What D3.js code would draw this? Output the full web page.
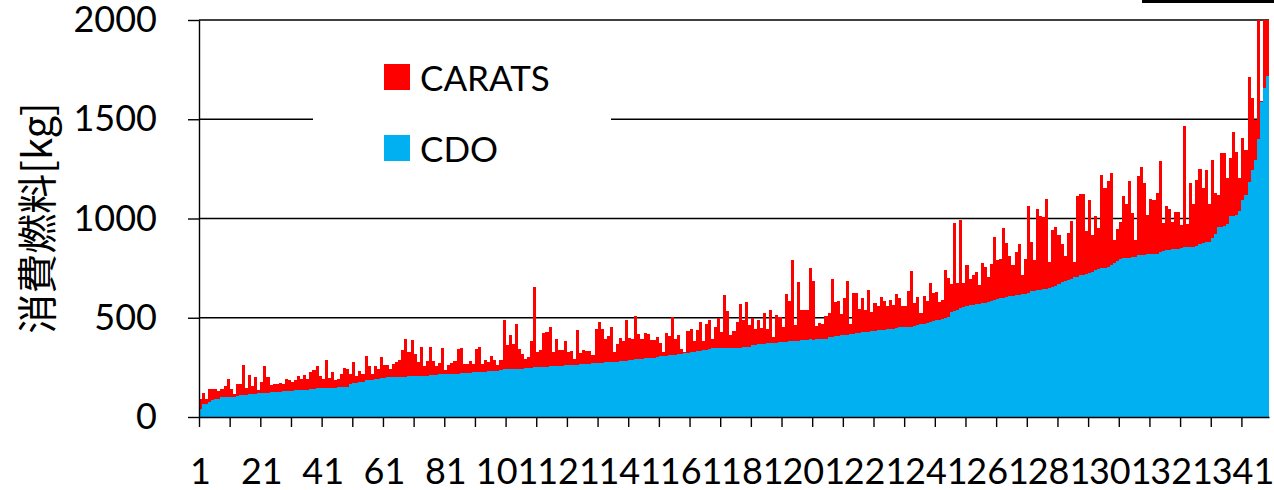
<!DOCTYPE html>
<html>
<head>
<meta charset="utf-8">
<script src="https://cdn.jsdelivr.net/npm/d3@7"></script>
<style>
  html, body { margin: 0; padding: 0; background: #fff; }
  svg { display: block; }
  .axis text { font-family: Lato, "Open Sans", sans-serif; font-size: 36px; fill: #000; }
  .axis path, .axis line { stroke: #000; stroke-width: 1.4; }
</style>
</head>
<body>
<svg id="chart"></svg>
<script>
// fuel per flight [kg], flights sorted by CDO fuel
var cdo = [
  42, 67, 67, 76, 84, 93, 90, 99, 99, 99, 99, 99, 105, 109, 109, 112, 114, 114, 116, 119,
  119, 120, 122, 124, 125, 126, 128, 130, 130, 131, 133, 135, 135, 136, 137, 138, 140, 143, 144, 145,
  146, 146, 146, 147, 148, 150, 151, 151, 153, 165,
  171, 171, 177, 177, 185, 185, 185, 190, 190, 197, 197, 202, 202, 202, 202, 202, 202, 202, 205, 205,
  205, 205, 205, 205, 205, 210, 210, 212, 215, 215, 215, 215, 215, 215, 218, 220, 220, 220, 222, 225,
  225, 225, 226, 228, 230, 230, 232, 234, 236, 240,
  240, 240, 240, 240, 240, 240, 245, 245, 245, 250, 250, 250, 250, 250, 256, 256, 256, 256, 256, 261,
  261, 261, 261, 261, 266, 266, 266, 268, 271, 271, 271, 273, 276, 276, 276, 276, 278, 281, 281, 283,
  286, 288, 291, 291, 294, 296, 296, 296, 298, 301,
  306, 306, 306, 311, 311, 311, 316, 316, 321, 321, 326, 326, 331, 331, 336, 336, 341, 346, 346, 346,
  346, 350, 350, 350, 350, 350, 350, 352, 352, 355, 361, 365, 370, 370, 370, 375, 373, 373, 373, 376,
  378, 380, 382, 385, 385, 385, 388, 390, 390, 392,
  390, 392, 392, 392, 395, 402, 402, 407, 407, 412, 412, 415, 417, 420, 422, 424, 427, 427, 430, 432,
  434, 437, 437, 440, 442, 442, 445, 447, 452, 452, 452, 452, 452, 458, 462, 467, 470, 476, 480, 484,
  487, 490, 494, 498, 502, 528, 533, 538, 548, 553,
  558, 563, 566, 568, 570, 573, 576, 578, 585, 590, 593, 598, 600, 605, 609, 612, 614, 616, 619, 622,
  626, 634, 636, 639, 641, 644, 647, 651, 654, 659, 669, 679, 684, 689, 697, 704, 706, 714, 716, 719,
  724, 729, 739, 744, 749, 749, 755, 765, 775,
  785, 795, 800, 800, 800, 805, 805, 815, 815, 815, 820, 820, 820, 820, 830, 835, 840, 840, 845, 845,
  845, 850, 855, 855, 855, 858, 860, 870, 875, 880, 880, 901, 921, 956, 956, 961, 971, 1012, 1012, 1017,
  1037, 1092, 1118, 1183, 1244, 1294, 1400, 1588, 1657, 1718
];
var carats = [
  93, 123, 93, 140, 143, 140, 130, 143, 158, 190, 143, 118, 165, 165, 261, 146, 214, 155, 199, 135,
  175, 256, 200, 163, 165, 168, 173, 168, 190, 185, 177, 185, 205, 190, 210, 190, 225, 235, 256, 205,
  193, 286, 198, 225, 185, 193, 219, 249, 244, 219,
  276, 205, 230, 219, 306, 256, 219, 256, 240, 301, 261, 261, 240, 266, 276, 286, 336, 392, 326, 387,
  316, 276, 351, 256, 281, 351, 281, 256, 271, 346, 235, 261, 271, 281, 341, 346, 266, 266, 281, 266,
  341, 351, 266, 286, 276, 306, 286, 261, 286, 488,
  361, 412, 366, 467, 341, 319, 291, 301, 382, 654, 326, 336, 422, 427, 452, 326, 392, 336, 336, 382,
  326, 331, 291, 437, 321, 336, 331, 331, 311, 442, 477, 442, 392, 407, 452, 326, 366, 397, 382, 487,
  397, 392, 508, 417, 392, 422, 417, 387, 387, 402,
  371, 326, 422, 407, 503, 392, 412, 341, 326, 432, 442, 382, 437, 477, 382, 467, 487, 392, 452, 498,
  427, 614, 533, 412, 432, 477, 568, 487, 578, 462, 498, 442, 487, 447, 523, 442, 538, 402, 513, 503,
  452, 619, 583, 790, 462, 679, 538, 538, 538, 750,
  684, 457, 472, 467, 508, 523, 694, 578, 583, 518, 598, 684, 467, 624, 624, 543, 598, 538, 639, 528,
  573, 558, 603, 583, 558, 588, 563, 619, 598, 558, 558, 634, 734, 573, 603, 523, 608, 583, 674, 624,
  629, 578, 588, 740, 699, 669, 976, 674, 992, 674,
  765, 694, 714, 729, 664, 775, 755, 704, 770, 906, 790, 795, 951, 876, 810, 765, 830, 871, 714, 795,
  1062, 881, 790, 1047, 1012, 1007, 1097, 780, 941, 956, 916, 871, 810, 926, 986, 780, 1113, 1123, 1123, 936,
  1092, 916, 1012, 951, 1219, 1153, 1188, 1229, 891,
  946, 981, 1113, 1072, 1188, 1027, 891, 1213, 1259, 1178, 1017, 1098, 1092, 1128, 1289, 976, 1062, 1047, 981, 1032,
  1032, 966, 1466, 971, 1178, 1072, 1193, 1249, 1153, 1244, 1072, 1294, 1128, 1118, 1329, 1329, 1203, 1304, 1435, 1334,
  1203, 1405, 1345, 1712, 1607, 1496, 2200, 1590, 2300, 2150
];
var flights = d3.range(1, cdo.length + 1);
var yTicks = [0, 500, 1000, 1500, 2000];
var xLabels = d3.range(1, cdo.length + 1, 20);
var seriesNames = ["CARATS", "CDO"];
var seriesColors = ["#ff0000", "#00b0f0"];

var width = 1274, height = 490;
// plot area edges (note: "top" is reserved on window, so use own names)
var plotL = 199, plotR = 1269, plotT = 20, plotB = 417;

var svg = d3.select("#chart").attr("width", width).attr("height", height);

var x = d3.scaleBand().domain(flights).range([plotL, plotR]).padding(0);
var xEdge = d3.scaleLinear().domain([0, flights.length]).range([plotL, plotR]);
var y = d3.scaleLinear().domain([0, 2000]).range([plotB, plotT]);

svg.append("clipPath").attr("id", "plot-clip")
  .append("rect").attr("x", plotL).attr("y", plotT).attr("width", plotR - plotL).attr("height", plotB - plotT);

// gridlines
svg.append("g").selectAll("line")
  .data(yTicks.slice(1))
  .enter().append("line")
  .attr("x1", plotL).attr("x2", plotR)
  .attr("y1", function (d) { return y(d); }).attr("y2", function (d) { return y(d); })
  .attr("stroke", "#000").attr("stroke-width", 1.4);

// bars: CARATS behind, CDO in front
var plot = svg.append("g").attr("clip-path", "url(#plot-clip)").attr("shape-rendering", "crispEdges");
[carats, cdo].forEach(function (vals, s) {
  plot.append("g").selectAll("rect")
    .data(vals)
    .enter().append("rect")
    .attr("x", function (d, i) { return x(flights[i]); })
    .attr("width", x.bandwidth())
    .attr("y", function (d) { return y(Math.min(d, 2100)); })
    .attr("height", function (d) { return plotB - y(Math.min(d, 2100)); })
    .attr("fill", seriesColors[s]);
});

// y axis
svg.append("g").attr("class", "axis")
  .attr("transform", "translate(" + plotL + ",0)")
  .call(d3.axisLeft(y).tickValues(yTicks).tickFormat(d3.format("d")).tickSize(11).tickSizeOuter(0).tickPadding(31));

// x axis: tick marks every 10 flights, labels every 20
svg.append("g").attr("class", "axis")
  .attr("transform", "translate(0," + plotB + ")")
  .call(d3.axisBottom(xEdge).tickValues(d3.range(0, flights.length, 10)).tickFormat("").tickSize(10).tickSizeOuter(0));
var xl = svg.append("g").attr("class", "axis")
  .attr("transform", "translate(0," + plotB + ")")
  .call(d3.axisBottom(x).tickValues(xLabels).tickSize(0).tickPadding(41));
xl.select(".domain").remove();

// y title
svg.append("text")
  .attr("transform", "translate(35,218) rotate(-90)")
  .attr("text-anchor", "middle")
  .attr("dominant-baseline", "central")
  .style("font-family", "'Noto Sans CJK JP', sans-serif")
  .style("font-size", "40px")
  .text("消費燃料[kg]");

// legend
var legend = svg.append("g");
legend.append("rect").attr("x", 313).attr("y", 40).attr("width", 298).attr("height", 150).attr("fill", "#fff");
seriesNames.forEach(function (name, i) {
  legend.append("rect")
    .attr("x", 384).attr("y", 64 + i * 71).attr("width", 26).attr("height", 26)
    .attr("fill", seriesColors[i]);
  legend.append("text")
    .attr("x", 420).attr("y", 91 + i * 71)
    .style("font-family", "Lato, sans-serif").style("font-size", "35px")
    .text(name);
});

// cut-off frame edge at the top right
svg.append("line").attr("x1", 1142).attr("x2", 1274).attr("y1", 1.5).attr("y2", 1.5)
  .attr("stroke", "#000").attr("stroke-width", 3);
</script>
</body>
</html>
